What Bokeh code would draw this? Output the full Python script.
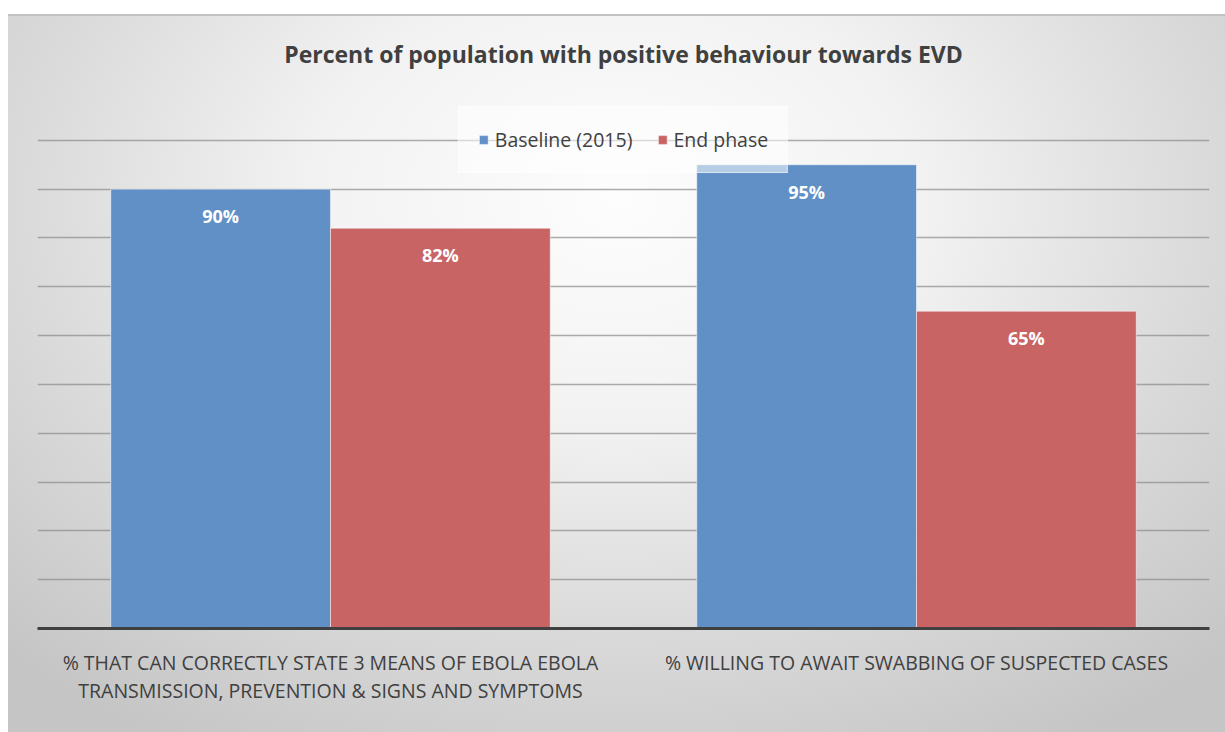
from bokeh.plotting import figure
from bokeh.models import (ColumnDataSource, FactorRange, Range1d, FixedTicker,
                          Legend, LegendItem)
from bokeh.transform import dodge
from bokeh.core.properties import value
from bokeh.embed import file_html
from bokeh.resources import INLINE

# Survey results
categories = [
    "% THAT CAN CORRECTLY STATE 3 MEANS OF EBOLA EBOLA\nTRANSMISSION, PREVENTION & SIGNS AND SYMPTOMS",
    "% WILLING TO AWAIT SWABBING OF SUSPECTED CASES",
]
series_names = ["Baseline (2015)", "End phase"]
baseline = [90, 95]
end_phase = [82, 65]
grid_ticks = [10, 20, 30, 40, 50, 60, 70, 80, 90, 100]

FONT = "Open Sans"
BLUE = "#6190c7"
RED = "#c96464"
TEXT = "#404040"

source = ColumnDataSource(dict(
    cat=categories,
    base=baseline,
    end=end_phase,
    base_lbl=[f"{v}%" for v in baseline],
    end_lbl=[f"{v}%" for v in end_phase],
))

p = figure(
    x_range=FactorRange(*categories, range_padding=0),
    y_range=Range1d(0, 110),
    width=1217, height=718,
    output_backend="svg", toolbar_location=None,
    min_border_left=29, min_border_right=16,
    min_border_top=77, min_border_bottom=104,
)
p.x_range.range_padding = 0

# transparent canvas so the page's gradient shows through
p.border_fill_alpha = 0
p.background_fill_alpha = 0
p.outline_line_color = None
p.styles = {
    "margin-left": "8px",
    "margin-top": "14px",
    "background": "radial-gradient(ellipse 72% 88% at 50% 26%, #fdfdfd 0%, #f2f2f2 35%, #dadada 68%, #c5c5c5 100%)",
    "box-shadow": "inset 0 2px 0 #c2c2c2",
}

# title
p.title.text = "Percent of population with positive behaviour towards EVD"
p.title.align = "center"
p.title.text_font = FONT
p.title.text_font_size = "23px"
p.title.text_font_style = "bold"
p.title.text_color = TEXT
p.title.standoff = 43

# bars
w = 0.375
r_base = p.vbar(x=dodge("cat", -w / 2, range=p.x_range), top="base", width=w,
                source=source, fill_color=BLUE, line_color="white", line_alpha=0.5,
                line_width=1)
r_end = p.vbar(x=dodge("cat", w / 2, range=p.x_range), top="end", width=w,
               source=source, fill_color=RED, line_color="white", line_alpha=0.5,
               line_width=1)

# value labels inside the bars
for col, lbl, off in (("base", "base_lbl", -w / 2), ("end", "end_lbl", w / 2)):
    p.text(x=dodge("cat", off, range=p.x_range), y=col, text=lbl, source=source,
           text_font=value(FONT), text_font_size="18px", text_font_style="bold",
           text_color="white", text_align="center", text_baseline="middle",
           y_offset=27)

# axes and grid
p.yaxis.visible = False
p.xaxis.axis_line_color = TEXT
p.xaxis.axis_line_width = 3
p.xaxis.major_tick_line_color = None
p.xaxis.minor_tick_line_color = None
p.xaxis.major_label_text_font = FONT
p.xaxis.major_label_text_font_size = "19.5px"
p.xaxis.major_label_text_color = TEXT
p.xaxis.major_label_text_line_height = 1.06
p.xaxis.major_label_standoff = 14
p.xgrid.visible = False
p.ygrid.ticker = FixedTicker(ticks=grid_ticks)
p.ygrid.grid_line_color = "#8a8a8a"
p.ygrid.grid_line_alpha = 0.7
p.ygrid.grid_line_width = 1.5

# legend in a translucent pale box laid over the top gridline
legend = Legend(
    items=[LegendItem(label=series_names[0], renderers=[r_base]),
           LegendItem(label=series_names[1], renderers=[r_end])],
    orientation="horizontal",
    location="top_center",
    margin=15,
    padding=19,
    spacing=24,
    glyph_width=11, glyph_height=11,
    label_standoff=6,
    label_text_font=FONT,
    label_text_font_size="19.5px",
    label_text_color=TEXT,
    border_line_color="white",
    border_line_alpha=0.5,
    background_fill_color="white",
    background_fill_alpha=0.55,
)
p.add_layout(legend, "center")

open("out.html", "w").write(file_html(p, INLINE))
